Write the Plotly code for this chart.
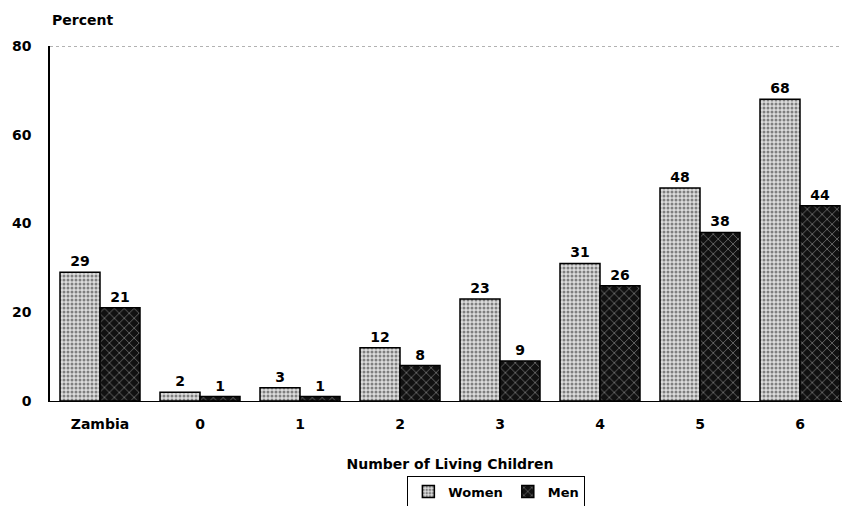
import plotly.graph_objects as go

categories = ["Zambia", "0", "1", "2", "3", "4", "5", "6"]
women = [29, 2, 3, 12, 23, 31, 48, 68]
men = [21, 1, 1, 8, 9, 26, 38, 44]
y_ticks = [0, 20, 40, 60, 80]

FONT = "DejaVu Sans, Liberation Sans, Arial, sans-serif"
TXT = dict(family=FONT, size=14, color="black", weight="bold")

fig = go.Figure()
fig.add_trace(go.Bar(
    name="Women", x=categories, y=women,
    text=[str(v) for v in women], textposition="outside",
    textfont=TXT, cliponaxis=False,
    marker=dict(color="white",
                line=dict(color="black", width=1.5),
                pattern=dict(shape=".", fgcolor="#222222", bgcolor="#dcdcdc",
                             size=4, solidity=0.45)),
))
fig.add_trace(go.Bar(
    name="Men", x=categories, y=men,
    text=[str(v) for v in men], textposition="outside",
    textfont=TXT, cliponaxis=False,
    marker=dict(color="#1a1a1a",
                line=dict(color="black", width=1.5),
                pattern=dict(shape="x", fgcolor="#bbbbbb", bgcolor="#111111",
                             size=7, solidity=0.25)),
))

fig.update_layout(
    width=842, height=498,
    margin=dict(l=42, r=0, t=38, b=105, autoexpand=False),
    paper_bgcolor="white", plot_bgcolor="white",
    barmode="group", bargap=0.2, bargroupgap=0.0,
    font=dict(family=FONT, size=14, color="black"),
    showlegend=True,
    legend=dict(orientation="h", x=0.58, xanchor="center", xref="container",
                y=-0.255, yanchor="middle", yref="paper",
                bordercolor="black", borderwidth=1,
                font=dict(family=FONT, size=13, color="black", weight="bold"),
                itemwidth=30, tracegroupgap=0),
    xaxis=dict(
        showline=True, linecolor="black", linewidth=1,
        showgrid=False, ticks="",
        ticklabelstandoff=10,
        tickfont=TXT,
        title=dict(text="Number of Living Children", standoff=28, font=TXT),
    ),
    yaxis=dict(
        range=[0, 80], tickvals=y_ticks,
        showline=True, linecolor="black", linewidth=1.5,
        showgrid=False, zeroline=False, ticks="",
        ticklabelstandoff=14,
        tickfont=TXT,
    ),
    shapes=[dict(type="line", xref="paper", yref="y", x0=0, x1=1, y0=80, y1=80,
                 line=dict(color="#666666", width=1, dash="dot"))],
    annotations=[dict(text="Percent", xref="paper", yref="paper", x=0.0, y=1.073,
                      xanchor="left", yanchor="middle", showarrow=False,
                      font=TXT)],
)

fig.write_html("out.html")
